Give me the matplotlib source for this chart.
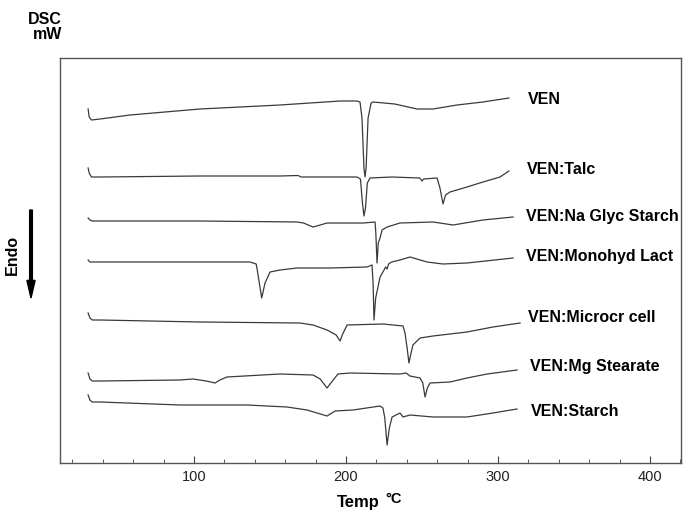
import matplotlib.pyplot as plt
from matplotlib.ticker import MultipleLocator

plt.rcParams['font.family'] = ['Liberation Sans', 'DejaVu Sans']

# DSC traces, temperature (°C) vs heat flow (arbitrary mW offset)
ven_t = [30.3, 31.0, 32.5, 38.2, 57.9, 103.9, 156.6, 196.1, 207.2, 209.2, 210.5, 211.8, 212.5,
         213.2, 214.5, 216.5, 217.8, 232.0, 246.7, 257.2, 273.0, 290.1, 307.2]
ven_h = [35.4, 34.6, 34.3, 34.4, 34.8, 35.4, 35.8, 36.2, 36.2, 36.1, 34.5, 29.5, 28.6,
         29.5, 34.5, 36.0, 36.1, 35.9, 35.4, 35.4, 35.8, 36.1, 36.5]

talc_t = [30.3, 31.0, 32.5, 38.2, 103.9, 156.6, 168.4, 170.5, 207.2, 209.5, 210.8, 211.8, 212.8,
          214.0, 215.8, 230.0, 248.5, 250.0, 251.0, 259.9, 261.8, 263.8, 265.5, 268.4, 279.6,
          290.1, 301.3, 307.2]
talc_h = [29.5, 29.0, 28.6, 28.6, 28.7, 28.7, 28.75, 28.6, 28.6, 28.4, 26.0, 24.7, 25.5,
          28.0, 28.5, 28.6, 28.5, 28.2, 28.4, 28.5, 27.5, 25.9, 26.8, 27.1, 27.6,
          28.1, 28.6, 29.2]

nags_t = [30.3, 31.5, 33.0, 38.2, 103.9, 167.8, 172.0, 178.3, 183.0, 187.5, 211.2, 219.1, 219.6,
          220.4, 221.2, 222.4, 223.7, 227.0, 235.5, 257.2, 270.4, 290.1, 309.9]
nags_h = [24.5, 24.3, 24.2, 24.2, 24.2, 24.1, 24.0, 23.6, 23.8, 24.0, 24.0, 24.1, 23.0,
          20.0, 22.0, 22.5, 23.3, 23.6, 24.0, 24.1, 23.8, 24.3, 24.6]

lact_t = [30.3, 31.5, 33.0, 38.2, 136.8, 140.9, 141.6, 144.5, 146.7, 150.0, 156.6, 167.8, 189.5,
          213.8, 217.1, 217.8, 218.4, 219.5, 222.4, 225.0, 226.0, 227.0, 228.0, 230.0, 235.5,
          242.1, 253.3, 263.8, 279.6, 309.9]
lact_h = [20.3, 20.1, 20.1, 20.1, 20.1, 19.9, 19.3, 16.5, 18.0, 19.1, 19.3, 19.5, 19.5,
          19.6, 19.8, 18.0, 14.3, 16.5, 18.6, 19.3, 19.6, 19.4, 19.9, 20.1, 20.3,
          20.6, 20.1, 19.9, 20.0, 20.5]

mcc_t = [30.3, 31.5, 33.0, 38.2, 103.9, 169.7, 178.3, 187.5, 193.5, 196.1, 197.5, 200.7, 224.3,
         237.5, 238.8, 240.2, 241.4, 242.5, 244.0, 248.7, 257.2, 279.6, 296.7, 314.5]
mcc_h = [15.0, 14.5, 14.3, 14.3, 14.1, 14.0, 13.8, 13.3, 12.8, 12.2, 12.8, 13.8, 13.9,
         13.7, 13.0, 11.5, 10.0, 10.8, 11.8, 12.5, 12.7, 13.1, 13.6, 14.0]

mgst_t = [30.3, 31.5, 33.0, 38.2, 90.8, 99.3, 108.0, 113.8, 117.0, 121.7, 156.6, 178.3, 183.0,
          187.5, 190.0, 194.7, 202.6, 235.5, 239.5, 242.0, 248.7, 250.5, 252.0, 253.5, 255.3,
          268.4, 279.6, 292.8, 312.5]
mgst_h = [9.0, 8.4, 8.2, 8.2, 8.3, 8.4, 8.2, 8.0, 8.3, 8.6, 8.9, 8.8, 8.4,
          7.5, 8.0, 8.9, 9.0, 8.9, 9.0, 8.7, 8.5, 8.0, 6.6, 7.5, 8.0,
          8.1, 8.5, 8.9, 9.3]

starch_t = [30.3, 31.5, 33.0, 38.2, 90.8, 134.9, 161.2, 174.3, 187.5, 192.8, 204.6, 222.4, 224.3,
            225.5, 227.0, 228.5, 230.3, 235.5, 237.5, 242.1, 257.2, 279.6, 296.7, 312.5]
starch_h = [6.8, 6.3, 6.1, 6.1, 5.8, 5.8, 5.6, 5.3, 4.7, 5.2, 5.3, 5.7, 5.5,
            4.5, 1.8, 3.5, 4.6, 5.0, 4.6, 4.8, 4.6, 4.6, 5.0, 5.4]

labels = ['VEN', 'VEN:Talc', 'VEN:Na Glyc Starch', 'VEN:Monohyd Lact',
          'VEN:Microcr cell', 'VEN:Mg Stearate', 'VEN:Starch']
label_t = [319.5, 318.8, 318.2, 318.2, 319.5, 320.8, 321.4]
label_h = [36.4, 29.3, 24.6, 20.6, 14.5, 9.7, 5.2]

series = [(ven_t, ven_h), (talc_t, talc_h), (nags_t, nags_h), (lact_t, lact_h),
          (mcc_t, mcc_h), (mgst_t, mgst_h), (starch_t, starch_h)]

fig = plt.figure(figsize=(6.83, 5.13), dpi=100)
ax = fig.add_axes([60/683, 1 - 463/513, 621/683, 405/513])

for (t, h) in series:
    ax.plot(t, h, color='#3a3a3a', lw=0.9)

for lab, lt, lh in zip(labels, label_t, label_h):
    ax.text(lt, lh, lab, fontsize=11.5, fontweight='bold', ha='left', va='center')

ax.set_xlim(11.8, 420.4)
ax.set_ylim(0, 40.5)
ax.xaxis.set_major_locator(MultipleLocator(100))
ax.xaxis.set_minor_locator(MultipleLocator(20))
ax.tick_params(axis='x', which='major', direction='in', length=5, labelsize=10.5,
               labelcolor='#222222', color='#444444', pad=5)
ax.tick_params(axis='x', which='minor', direction='in', length=3, color='#444444')
ax.set_yticks([])
for s in ax.spines.values():
    s.set_color('#555555')
    s.set_linewidth(1.0)

fig.text(380/683, 1 - 503/513, 'Temp', fontsize=12, fontweight='bold', ha='right', va='center')
fig.text(385/683, 1 - 499/513, '°C', fontsize=10.5, fontweight='bold', ha='left', va='center')
fig.text(62/683, 1 - 20/513, 'DSC', fontsize=11.5, fontweight='bold', ha='right', va='center')
fig.text(62/683, 1 - 35/513, 'mW', fontsize=11.5, fontweight='bold', ha='right', va='center')
fig.text(12/683, 1 - 255/513, 'Endo', fontsize=11.5, fontweight='bold', rotation=90,
         ha='center', va='center')
fig.patches.append(plt.Arrow(31/683, 1 - 210/513, 0, -88/513, width=0.02,
                             transform=fig.transFigure, color='black'))

fig.savefig('out.png', dpi=100)
